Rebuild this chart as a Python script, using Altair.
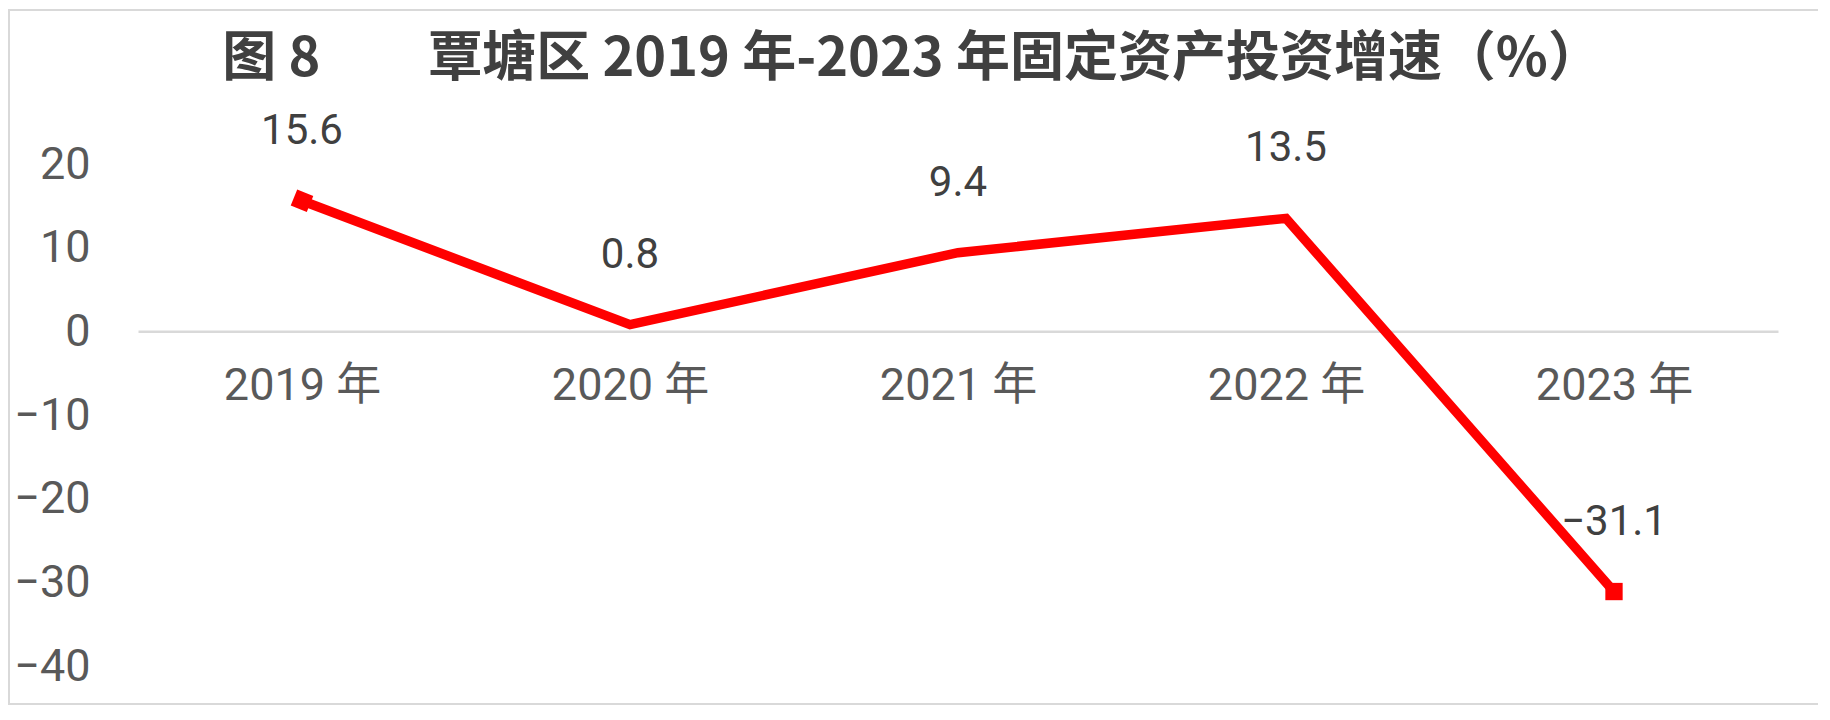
import altair as alt
import pandas as pd

years = ["2019 年", "2020 年", "2021 年", "2022 年", "2023 年"]
growth = [15.6, 0.8, 9.4, 13.5, -31.1]
y_ticks = [20, 10, 0, -10, -20, -30, -40]

df = pd.DataFrame({"year": years, "growth": growth})
df["idx"] = list(range(len(years)))
last = len(years) - 1

W, H = 1640, 502
FONT = "Roboto, Noto Sans CJK SC, sans-serif"

x = alt.X(
    "year:N",
    sort=years,
    scale=alt.Scale(type="point", padding=0.5),
    axis=alt.Axis(
        title=None,
        ticks=False,
        domainColor="#d9d9d9",
        domainWidth=2.5,
        labelPadding=32,
        labelFontSize=45,
        labelColor="#595959",
        labelFont=FONT,
        labelAngle=0,
        offset=-H * 40 / 60,
    ),
)
y = alt.Y(
    "growth:Q",
    scale=alt.Scale(domain=[-40, 20], nice=False, zero=False),
    axis=alt.Axis(
        title=None,
        values=y_ticks,
        grid=False,
        ticks=False,
        domain=False,
        labelPadding=48,
        labelFontSize=45,
        labelColor="#595959",
        labelFont=FONT,
    ),
)

base = alt.Chart(df)

frame = alt.Chart(alt.Data(values=[{"a": 1}])).mark_rect(
    fillOpacity=0, stroke="#d9d9d9", strokeWidth=2
).encode(
    x=alt.value(-129), x2=alt.value(W + 44),
    y=alt.value(-154), y2=alt.value(H + 38),
)

line = base.mark_line(color="#ff0000", strokeWidth=9.5).encode(x=x, y=y)

first_pt = base.transform_filter("datum.idx == 0").mark_point(
    shape="square", filled=True, color="#ff0000", size=300, opacity=1, angle=22
).encode(x=x, y=y)

last_pt = base.transform_filter(f"datum.idx == {last}").mark_point(
    shape="square", filled=True, color="#ff0000", size=300, opacity=1
).encode(x=x, y=y)

labels = base.mark_text(
    dy=-70, baseline="middle", align="center", fontSize=42,
    color="#404040", font=FONT
).encode(x=x, y=y, text=alt.Text("growth:Q", format=".1f"))

chart = alt.layer(frame, line, first_pt, last_pt, labels).properties(
    width=W,
    height=H,
    background="white",
    padding={"left": 130, "top": 156, "right": 40, "bottom": 40},
    autosize=alt.AutoSizeParams(type="none"),
    title=alt.TitleParams(
        "图 8\u3000\u3000覃塘区 2019 年-2023 年固定资产投资增速（%）",
        fontSize=54,
        fontWeight="bold",
        color="#404040",
        font="Noto Sans CJK SC, sans-serif",
        anchor="middle",
        frame="group",
        dx=-46,
        offset=-121,
        baseline="alphabetic",
    ),
).configure_view(stroke="transparent", strokeWidth=0)

chart.save("out.html", embed_options={"renderer": "svg", "actions": False})
